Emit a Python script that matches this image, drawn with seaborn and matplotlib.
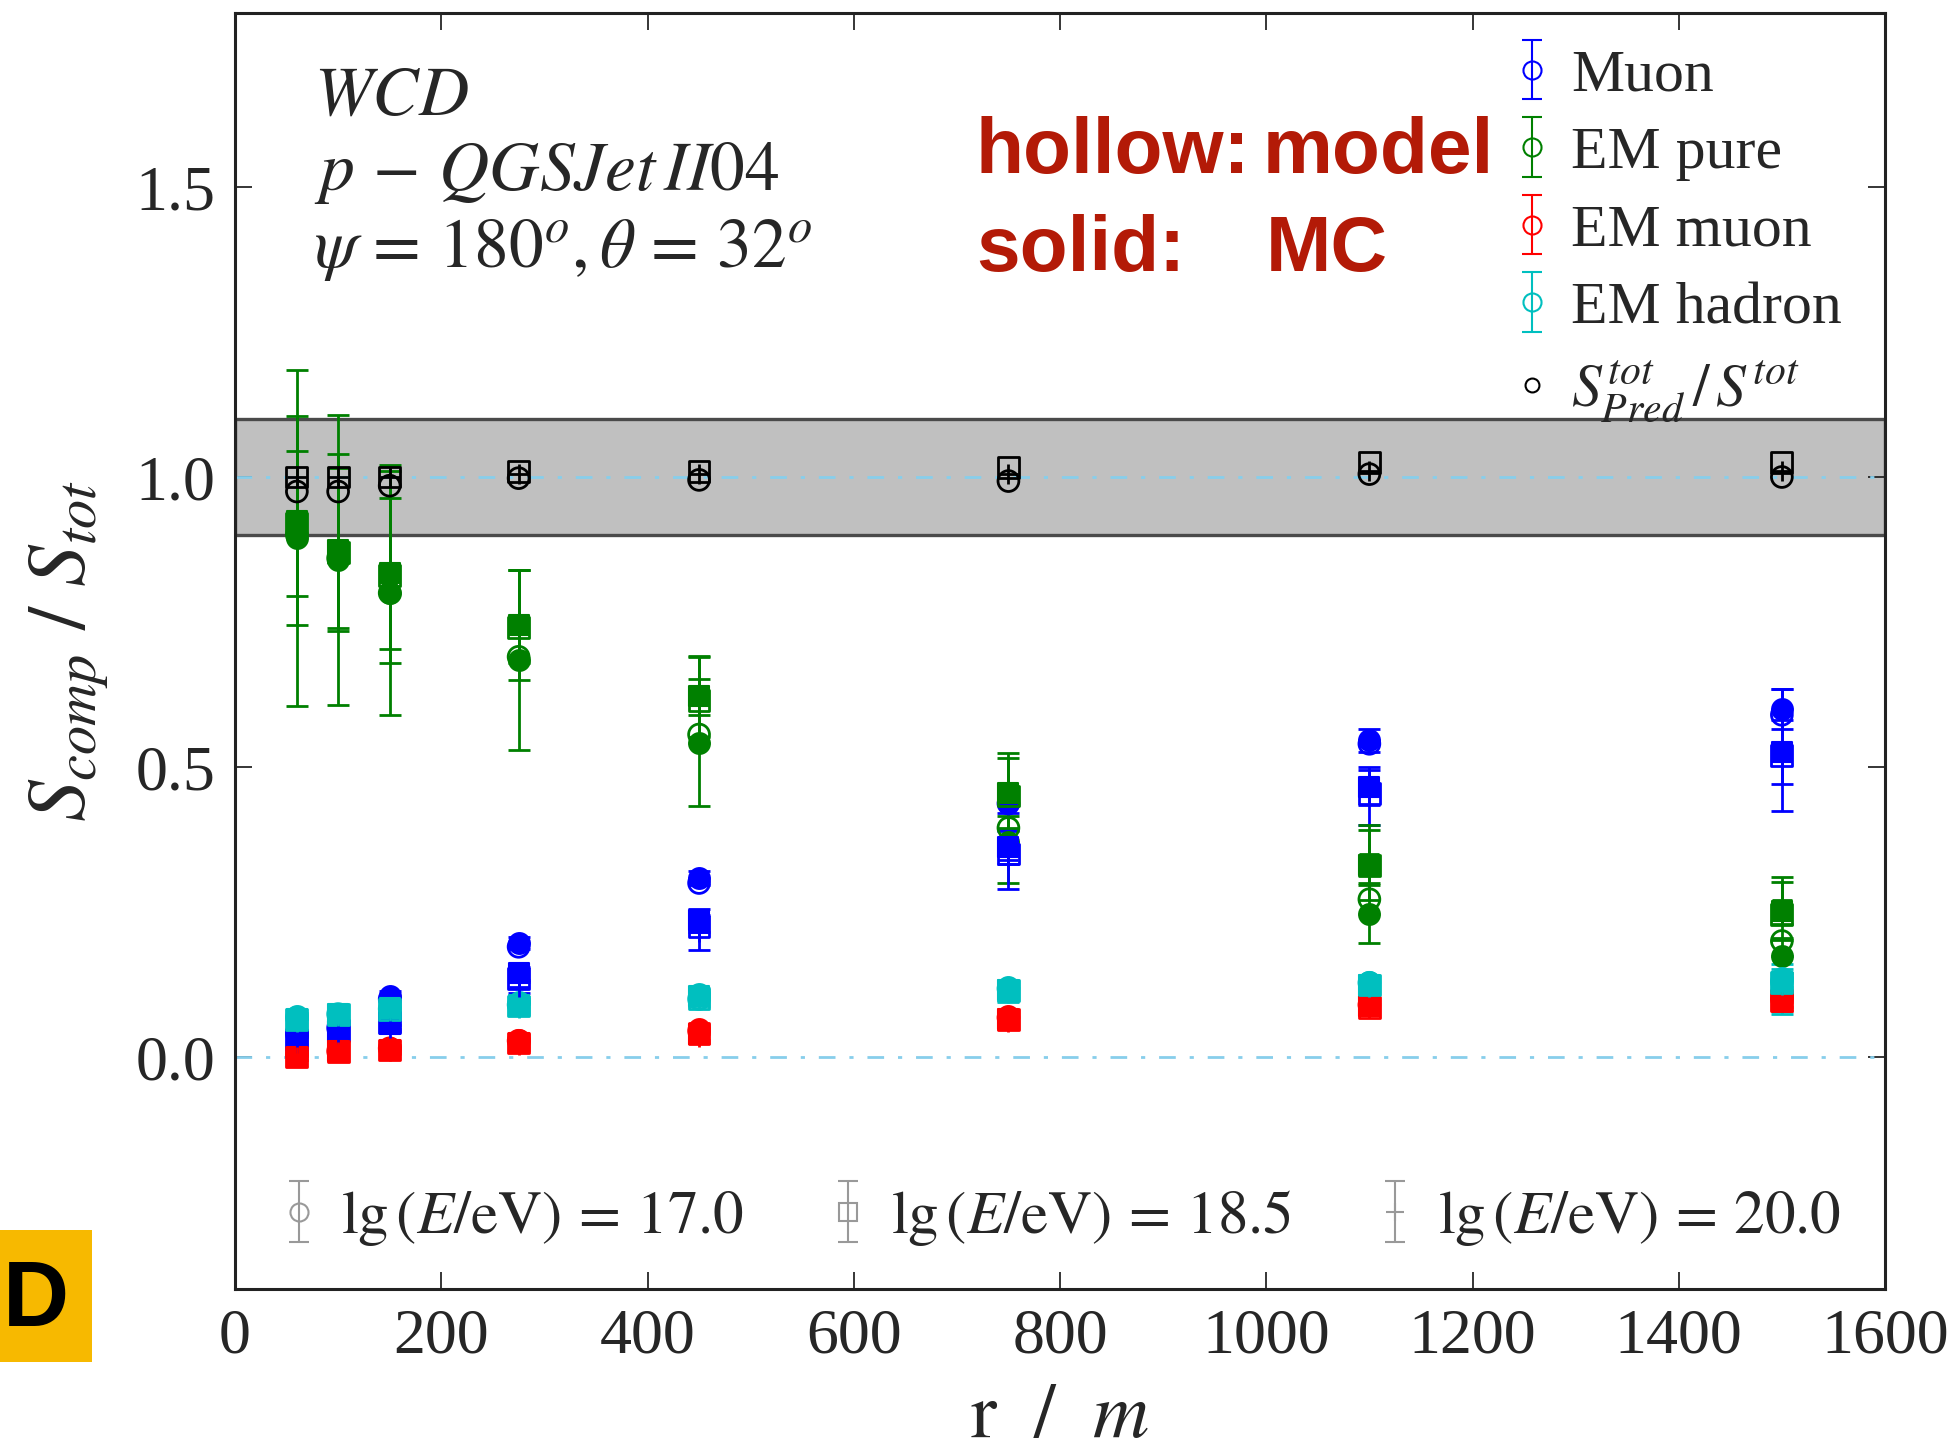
import numpy as np
import pandas as pd
import matplotlib
matplotlib.use("Agg")
import matplotlib.pyplot as plt
from matplotlib.patches import Rectangle
import seaborn as sns

# ---------------- data ----------------
r = [60, 100, 150, 275, 450, 750, 1100, 1500]
components = ["Muon", "EM pure", "EM muon", "EM hadron"]
comp_colors = ["#0000ff", "#008000", "#ff0000", "#00bfbf"]
energies = ["17.0", "18.5", "20.0"]

# Muon
mu_mc_17 = [0.040, 0.050, 0.105, 0.197, 0.308, 0.440, 0.546, 0.600]
mu_mc_185 = [0.030, 0.045, 0.057, 0.144, 0.236, 0.362, 0.465, 0.526]
mu_mc_20 = [0.025, 0.040, 0.050, 0.120, 0.215, 0.340, 0.450, 0.530]
mu_mod_17 = [0.040, 0.050, 0.100, 0.190, 0.300, 0.437, 0.540, 0.590]
mu_mod_185 = [0.030, 0.045, 0.060, 0.135, 0.225, 0.350, 0.455, 0.520]
mu_err_17 = [0.005, 0.006, 0.008, 0.010, 0.012, 0.020, 0.020, 0.034]
mu_err_185 = [0.005, 0.006, 0.008, 0.012, 0.020, 0.030, 0.030, 0.055]
mu_err_20 = [0.004, 0.005, 0.006, 0.010, 0.030, 0.050, 0.050, 0.105]

# EM pure
ep_mc_17 = [0.895, 0.857, 0.800, 0.685, 0.542, 0.370, 0.247, 0.175]
ep_mc_185 = [0.925, 0.875, 0.834, 0.745, 0.622, 0.455, 0.331, 0.251]
ep_mc_20 = [0.920, 0.890, 0.850, 0.760, 0.640, 0.470, 0.350, 0.270]
ep_mod_17 = [0.900, 0.860, 0.800, 0.690, 0.556, 0.395, 0.272, 0.200]
ep_mod_185 = [0.920, 0.870, 0.830, 0.740, 0.615, 0.450, 0.330, 0.245]
ep_err_17 = [0.290, 0.250, 0.210, 0.155, 0.110, 0.070, 0.050, 0.030]
ep_err_185 = [0.180, 0.140, 0.130, 0.095, 0.070, 0.060, 0.060, 0.050]
ep_err_20 = [0.125, 0.150, 0.170, 0.080, 0.050, 0.055, 0.050, 0.040]

# EM muon
em_mc_17 = [0.005, 0.010, 0.015, 0.030, 0.048, 0.070, 0.090, 0.105]
em_mc_185 = [0.000, 0.010, 0.012, 0.025, 0.040, 0.065, 0.088, 0.098]
em_mc_20 = [0.000, 0.008, 0.010, 0.020, 0.035, 0.060, 0.085, 0.095]
em_mod_17 = [0.005, 0.010, 0.015, 0.028, 0.045, 0.068, 0.090, 0.100]
em_mod_185 = [0.000, 0.010, 0.012, 0.024, 0.040, 0.064, 0.086, 0.097]
em_err_17 = [0.005, 0.005, 0.005, 0.008, 0.008, 0.010, 0.010, 0.010]
em_err_185 = [0.005, 0.005, 0.005, 0.008, 0.010, 0.012, 0.012, 0.012]
em_err_20 = [0.005, 0.005, 0.005, 0.008, 0.010, 0.012, 0.012, 0.015]

# EM hadron
eh_mc_17 = [0.070, 0.075, 0.085, 0.094, 0.109, 0.121, 0.130, 0.136]
eh_mc_185 = [0.065, 0.075, 0.085, 0.090, 0.105, 0.115, 0.125, 0.130]
eh_mc_20 = [0.060, 0.070, 0.080, 0.085, 0.100, 0.110, 0.120, 0.125]
eh_mod_17 = [0.068, 0.074, 0.083, 0.090, 0.100, 0.118, 0.128, 0.130]
eh_mod_185 = [0.064, 0.073, 0.082, 0.088, 0.100, 0.114, 0.124, 0.128]
eh_err_17 = [0.006, 0.006, 0.008, 0.010, 0.010, 0.012, 0.012, 0.015]
eh_err_185 = [0.006, 0.006, 0.008, 0.010, 0.012, 0.012, 0.012, 0.030]
eh_err_20 = [0.006, 0.006, 0.008, 0.010, 0.012, 0.015, 0.015, 0.050]

# total predicted / total
rat_17 = [0.975, 0.975, 0.985, 0.998, 0.995, 0.993, 1.005, 1.000]
rat_185 = [1.000, 1.000, 1.000, 1.010, 1.010, 1.017, 1.025, 1.025]
rat_20 = [1.000, 1.000, 1.000, 1.005, 1.005, 1.005, 1.010, 1.010]

x_ticks = [0, 200, 400, 600, 800, 1000, 1200, 1400, 1600]
y_ticks = [0.0, 0.5, 1.0, 1.5]

mc = {
    "Muon": [mu_mc_17, mu_mc_185, mu_mc_20],
    "EM pure": [ep_mc_17, ep_mc_185, ep_mc_20],
    "EM muon": [em_mc_17, em_mc_185, em_mc_20],
    "EM hadron": [eh_mc_17, eh_mc_185, eh_mc_20],
}
model = {
    "Muon": [mu_mod_17, mu_mod_185],
    "EM pure": [ep_mod_17, ep_mod_185],
    "EM muon": [em_mod_17, em_mod_185],
    "EM hadron": [eh_mod_17, eh_mod_185],
}
errs = {
    "Muon": [mu_err_17, mu_err_185, mu_err_20],
    "EM pure": [ep_err_17, ep_err_185, ep_err_20],
    "EM muon": [em_err_17, em_err_185, em_err_20],
    "EM hadron": [eh_err_17, eh_err_185, eh_err_20],
}
ratios = [rat_17, rat_185, rat_20]

# ---------------- style ----------------
sns.set_style("ticks")
plt.rcParams["font.family"] = ["Liberation Serif", "DejaVu Serif"]
plt.rcParams["mathtext.fontset"] = "stix"

fig = plt.figure(figsize=(19.54, 14.53), dpi=100)
ax = fig.add_axes([235 / 1954, 1 - 1289 / 1453, 1650 / 1954, 1276 / 1453])

ax.set_xlim(0, 1600)
ax.set_ylim(-0.4, 1.8)

ax.axhspan(0.9, 1.1, facecolor="#c0c0c0", edgecolor="#4a4a4a", lw=2.4, zorder=0)
for yl in (0.0, 1.0):
    ax.axhline(yl, color="#87ceeb", ls="-.", lw=2, dashes=(6, 5, 1.5, 5), zorder=1)

MS = 15
S = MS ** 2
markers = ["o", "s"]
for ei, e in enumerate(energies):
    for comp, col in zip(components, comp_colors):
        yv = mc[comp][ei]
        ax.errorbar(r, yv, yerr=errs[comp][ei], fmt="none", ecolor=col,
                    elinewidth=2, capsize=8, capthick=2, zorder=2)
        if ei < 2:
            df = pd.DataFrame({"r": r, "v": yv})
            sns.scatterplot(data=df, x="r", y="v", ax=ax, marker=markers[ei], s=S,
                            color=col, edgecolor=col, linewidth=1.5, zorder=3, legend=False)
            dfm = pd.DataFrame({"r": r, "v": model[comp][ei]})
            sns.scatterplot(data=dfm, x="r", y="v", ax=ax, marker=markers[ei], s=S,
                            facecolor="none", edgecolor=col, linewidth=2, zorder=3,
                            legend=False)
        else:
            ax.plot(r, yv, ls="none", marker="+", ms=MS, mew=2, color=col, zorder=3)

# black total ratio
for ei in range(3):
    if ei < 2:
        dfr = pd.DataFrame({"r": r, "v": ratios[ei]})
        sns.scatterplot(data=dfr, x="r", y="v", ax=ax, marker=markers[ei], s=S,
                        facecolor="none", edgecolor="black", linewidth=2, zorder=4,
                        legend=False)
    else:
        ax.plot(r, ratios[ei], ls="none", marker="+", ms=MS, mew=2, color="black", zorder=4)

ax.set_xticks(x_ticks)
ax.set_yticks(y_ticks)
ax.set_yticklabels([f"{t:.1f}" for t in y_ticks])
ax.tick_params(direction="in", length=12, width=1.3, top=True, right=True,
               labelsize=46, pad=14)
for sp in ax.spines.values():
    sp.set_linewidth(2.2)
    sp.set_color("#222222")

ax.set_xlabel(r"$\mathrm{r}\ \ /\ \ m$", fontsize=56)
ax.xaxis.set_label_coords(0.5, -0.073)
ax.set_ylabel(r"$S_{comp}\ /\ S_{tot}$", fontsize=60)
ax.yaxis.set_label_coords(-0.075, 0.5)

# annotation text
tx = 0.048
ax.text(tx, 0.920, r"$WCD$", transform=ax.transAxes, fontsize=50, va="baseline")
ax.text(tx, 0.861, r"$p\,-\,QGSJet\,II04$", transform=ax.transAxes, fontsize=50,
        va="baseline")
ax.text(tx, 0.801, r"$\psi\,=\,180^{o},\theta\,=\,32^{o}$", transform=ax.transAxes,
        fontsize=50, va="baseline")

red = "#b31a07"
for txt, x, y in [("hollow:", 0.449, 0.875), ("model", 0.623, 0.875),
                  ("solid:", 0.449, 0.798), ("MC", 0.6245, 0.798)]:
    ax.text(x, y, txt, transform=ax.transAxes, fontsize=56.5, color=red,
            family="Liberation Sans", weight="bold", va="baseline")

# component legend
handles = []
for comp, col in zip(components, comp_colors):
    h = ax.errorbar([np.nan], [np.nan], yerr=[np.nan], fmt="o", mfc="none", mec=col,
                    ecolor=col, ms=13, mew=1.5, elinewidth=1.5, capsize=7, capthick=1.5)
    handles.append(h)
h_rat, = ax.plot([np.nan], [np.nan], ls="none", marker="o", mfc="none", mec="black",
                 ms=10, mew=1.5)
handles.append(h_rat)
labels = components + [r"$S^{tot}_{Pred}\,/\,S^{tot}$"]
leg1 = ax.legend(handles, labels, loc="upper left", bbox_to_anchor=(0.768, 0.972),
                 frameon=False, fontsize=43, handlelength=1.0, handletextpad=0.15,
                 borderpad=0, labelspacing=0.38, borderaxespad=0)
ax.add_artist(leg1)

# energy legend
ehandles = []
for m in ["o", "s", "+"]:
    h = ax.errorbar([np.nan], [np.nan], yerr=[np.nan], fmt=m, mfc="none", mec="0.6",
                    ecolor="0.6", ms=13, mew=1.5, elinewidth=1.5, capsize=7, capthick=1.5)
    ehandles.append(h)
elabels = [r"$\lg\left(E/\mathrm{eV}\right)\,=\,%s$" % e for e in energies]
ax.legend(ehandles, elabels, loc="center left", bbox_to_anchor=(0.02, 0.0556),
          ncol=3, frameon=False, fontsize=44, handlelength=1.0, handletextpad=0.2,
          columnspacing=1.2, borderpad=0, borderaxespad=0)

# panel tag
fig.add_artist(Rectangle((0, 1 - 1362 / 1453), 92 / 1954, 132 / 1453,
                         transform=fig.transFigure, facecolor="#f7b900",
                         edgecolor="none"))
fig.text(36 / 1954, 1 - 1302 / 1453, "D", fontsize=66, weight="bold",
         family="Liberation Sans", ha="center", va="center", color="black")

fig.savefig("out.png", dpi=100)
